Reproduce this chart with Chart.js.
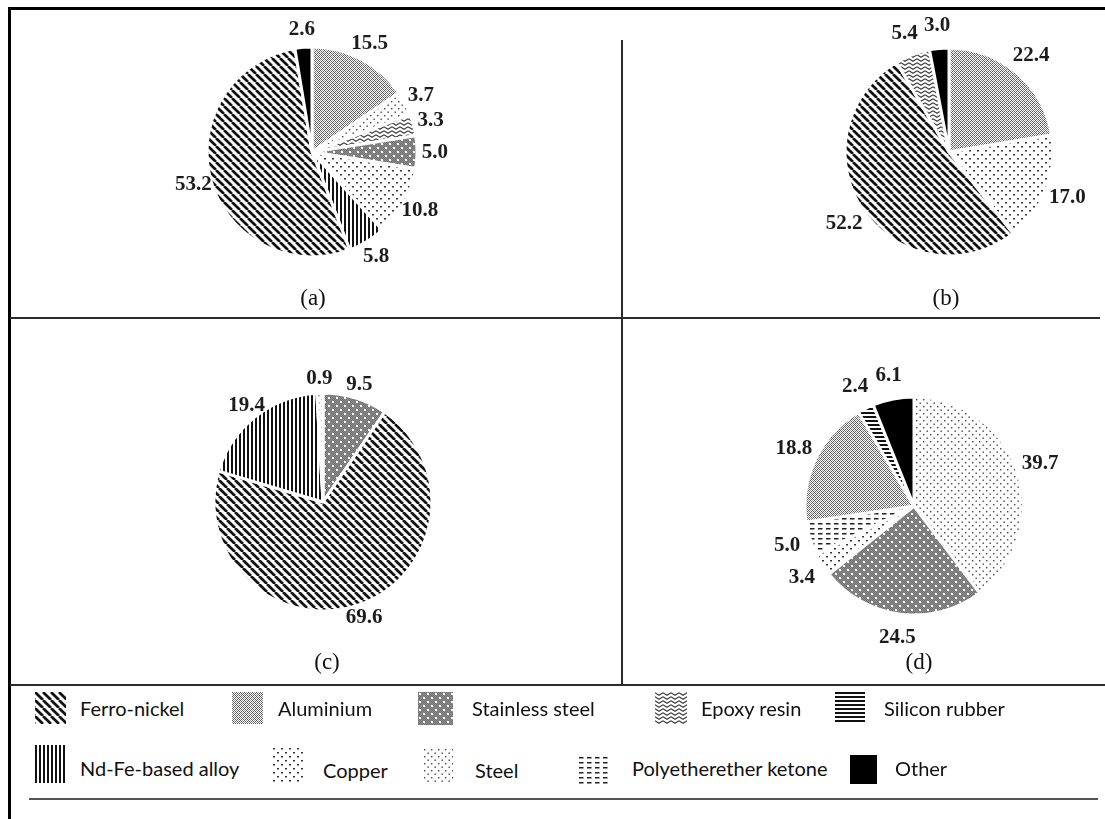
<!DOCTYPE html>
<html>
<head>
<meta charset="utf-8">
<script src="https://cdn.jsdelivr.net/npm/chart.js@4/dist/chart.umd.min.js"></script>
<style>
  html, body { margin: 0; padding: 0; background: #fff; }
  #fig { position: relative; width: 1105px; height: 819px; overflow: hidden; background: #fff; }
  .rule { position: absolute; background: #2b2b2b; }
  .pie { position: absolute; }
  .panel-tag { position: absolute; font: 23px "Liberation Serif", "Times New Roman", serif; color: #111; transform: translate(-50%, -50%); white-space: nowrap; }
  .key { position: absolute; }
  .key-text { position: absolute; font: 20px Lato, "Open Sans", sans-serif; color: #111; transform: translateY(-50%); white-space: nowrap; }
</style>
</head>
<body>
<div id="fig">
  <div class="rule" style="left:8px;top:7px;width:1097px;height:3px;background:#000"></div>
  <div class="rule" style="left:8px;top:7px;width:3px;height:812px;background:#000"></div>
  <div class="rule" style="left:10px;top:317px;width:1090px;height:2px"></div>
  <div class="rule" style="left:621px;top:40px;width:2px;height:645px"></div>
  <div class="rule" style="left:10px;top:684px;width:1095px;height:2px"></div>
  <div class="rule" style="left:29px;top:798px;width:1069px;height:2px;background:#555"></div>
</div>
<script>
// Materials shown in the shared key, in key order
const materials = ['Ferro-nickel', 'Aluminium', 'Stainless steel', 'Epoxy resin', 'Silicon rubber',
                   'Nd-Fe-based alloy', 'Copper', 'Steel', 'Polyetherether ketone', 'Other'];

// Mass shares (%) per panel, listed clockwise from 12 o'clock
const partsA = ['Aluminium', 'Steel', 'Epoxy resin', 'Stainless steel', 'Copper', 'Nd-Fe-based alloy', 'Ferro-nickel', 'Other'];
const sharesA = [15.5, 3.7, 3.3, 5.0, 10.8, 5.8, 53.2, 2.6];

const partsB = ['Aluminium', 'Copper', 'Ferro-nickel', 'Epoxy resin', 'Other'];
const sharesB = [22.4, 17.0, 52.2, 5.4, 3.0];

const partsC = ['Stainless steel', 'Ferro-nickel', 'Nd-Fe-based alloy', 'Steel'];
const sharesC = [9.5, 69.6, 19.4, 0.9];

const partsD = ['Steel', 'Stainless steel', 'Copper', 'Polyetherether ketone', 'Aluminium', 'Silicon rubber', 'Other'];
const sharesD = [39.7, 24.5, 3.4, 5.0, 18.8, 2.4, 6.1];

const panelTags = ['(a)', '(b)', '(c)', '(d)'];

// ---- hatch / texture tiles -------------------------------------------------
function tile(w, h, draw) {
  const c = document.createElement('canvas');
  c.width = w; c.height = h;
  const g = c.getContext('2d');
  g.fillStyle = '#fff';
  g.fillRect(0, 0, w, h);
  draw(g, w, h);
  return c;
}
const tiles = {
  'Ferro-nickel': tile(8, 8, g => {
    g.strokeStyle = '#111'; g.lineWidth = 2.7;
    for (const o of [-8, 0, 8]) { g.beginPath(); g.moveTo(o, 0); g.lineTo(o + 8, 8); g.stroke(); }
  }),
  'Aluminium': tile(4, 4, g => {
    g.fillStyle = '#5e5e5e';
    for (let y = 0; y < 4; y++) for (let x = (y % 2); x < 4; x += 2) g.fillRect(x, y, 1, 1);
    g.fillStyle = '#9a9a9a';
    g.fillRect(2, 0, 1, 1); g.fillRect(0, 2, 1, 1);
  }),
  'Stainless steel': tile(8, 8, g => {
    g.fillStyle = '#8e8e8e'; g.fillRect(0, 0, 8, 8);
    g.fillStyle = '#707070';
    for (let y = 0; y < 8; y++) for (let x = (y % 2); x < 8; x += 2) g.fillRect(x, y, 1, 1);
    g.fillStyle = '#fff';
    g.fillRect(1, 1, 2, 2); g.fillRect(5, 5, 2, 2);
  }),
  'Epoxy resin': tile(8, 4, g => {
    g.strokeStyle = '#444'; g.lineWidth = 1.3;
    g.beginPath(); g.moveTo(0, 0.8); g.lineTo(4, 3.2); g.lineTo(8, 0.8); g.stroke();
  }),
  'Silicon rubber': tile(4, 4, g => {
    g.fillStyle = '#111'; g.fillRect(0, 0, 4, 2);
  }),
  'Nd-Fe-based alloy': tile(4, 4, g => {
    g.fillStyle = '#111'; g.fillRect(0, 0, 2, 4);
  }),
  'Copper': tile(8, 8, g => {
    g.fillStyle = '#333';
    g.fillRect(0, 0, 2, 1.5); g.fillRect(4, 4, 2, 1.5);
  }),
  'Steel': tile(7, 7, g => {
    g.fillStyle = '#444';
    g.fillRect(1, 1, 1.4, 1.4); g.fillRect(4.5, 4.5, 1.4, 1.4);
  }),
  'Polyetherether ketone': tile(8, 5, g => {
    g.fillStyle = '#222'; g.fillRect(0, 2, 4.5, 1.5);
  }),
  'Other': tile(2, 2, g => { g.fillStyle = '#000'; g.fillRect(0, 0, 2, 2); })
};
function fillFor(ctx, name) { return ctx.createPattern(tiles[name], 'repeat'); }

// ---- value labels placed just outside each slice --------------------------
const valueLabels = {
  id: 'valueLabels',
  afterDatasetsDraw(chart, args, opts) {
    const meta = chart.getDatasetMeta(0);
    const vals = chart.data.datasets[0].data;
    const g = chart.ctx;
    g.save();
    g.font = 'bold 21px "Liberation Serif", "Times New Roman", serif';
    g.fillStyle = '#1c1c1c';
    g.textAlign = 'center';
    g.textBaseline = 'middle';
    meta.data.forEach((arc, i) => {
      const p = arc.getProps(['x', 'y', 'startAngle', 'endAngle', 'outerRadius'], true);
      const a = (p.startAngle + p.endAngle) / 2;
      const d = p.outerRadius * opts.distance;
      g.fillText(vals[i].toFixed(1), p.x + Math.cos(a) * d, p.y + Math.sin(a) * d);
    });
    g.restore();
  }
};

// ---- the four pies --------------------------------------------------------
const fig = document.getElementById('fig');
const panels = [
  { parts: partsA, shares: sharesA, cx: 312, cy: 152, r: 105, dist: 1.17, tag: [313, 298] },
  { parts: partsB, shares: sharesB, cx: 949, cy: 152, r: 104, dist: 1.22, tag: [946, 298] },
  { parts: partsC, shares: sharesC, cx: 323, cy: 502, r: 109, dist: 1.13, tag: [327, 662] },
  { parts: partsD, shares: sharesD, cx: 914, cy: 506, r: 109, dist: 1.22, tag: [919, 662] }
];
const W = 320, H = 300;
panels.forEach((pn, k) => {
  const cv = document.createElement('canvas');
  cv.className = 'pie';
  cv.width = W; cv.height = H;
  cv.style.left = (pn.cx - W / 2) + 'px';
  cv.style.top = (pn.cy - H / 2) + 'px';
  fig.appendChild(cv);
  const ctx = cv.getContext('2d');
  new Chart(cv, {
    type: 'pie',
    data: {
      labels: pn.parts,
      datasets: [{
        data: pn.shares,
        backgroundColor: pn.parts.map(n => fillFor(ctx, n)),
        borderColor: '#fff',
        borderWidth: 3
      }]
    },
    options: {
      responsive: false,
      animation: false,
      devicePixelRatio: 1,
      radius: pn.r,
      events: [],
      layout: { padding: 0 },
      plugins: {
        legend: { display: false },
        tooltip: { enabled: false },
        valueLabels: { distance: pn.dist }
      }
    },
    plugins: [valueLabels]
  });
  const t = document.createElement('div');
  t.className = 'panel-tag';
  t.textContent = panelTags[k];
  t.style.left = pn.tag[0] + 'px';
  t.style.top = pn.tag[1] + 'px';
  fig.appendChild(t);
});

// ---- shared key -----------------------------------------------------------
const keySlots = [
  [35, 692, 31, 32, 80, 708], [232, 692, 31, 32, 278, 708], [418, 692, 35, 33, 472, 708],
  [655, 692, 32, 32, 701, 708], [835, 692, 30, 32, 884, 708],
  [35, 745, 30, 38, 80, 768], [273, 748, 31, 34, 323, 770], [423, 748, 30, 34, 475, 770],
  [579, 755, 30, 29, 632, 768], [850, 755, 27, 29, 895, 768]
];
materials.forEach((name, i) => {
  const [x, y, w, h, tx, ty] = keySlots[i];
  const sw = document.createElement('canvas');
  sw.className = 'key';
  sw.width = w; sw.height = h;
  sw.style.left = x + 'px'; sw.style.top = y + 'px';
  const g = sw.getContext('2d');
  g.fillStyle = fillFor(g, name);
  g.fillRect(0, 0, w, h);
  fig.appendChild(sw);
  const lb = document.createElement('div');
  lb.className = 'key-text';
  lb.textContent = name;
  lb.style.left = tx + 'px'; lb.style.top = ty + 'px';
  fig.appendChild(lb);
});
</script>
</body>
</html>
